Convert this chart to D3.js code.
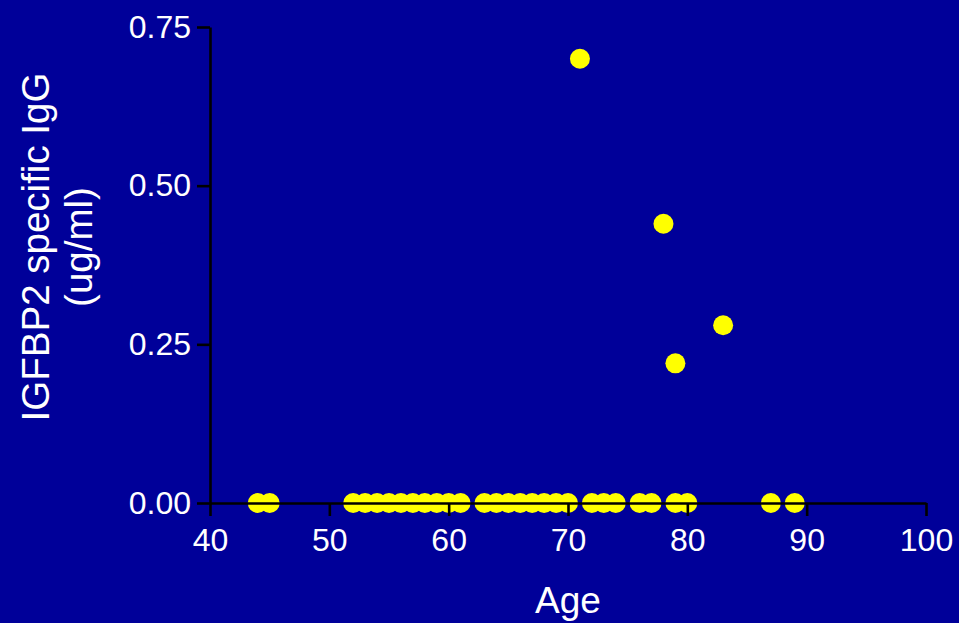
<!DOCTYPE html>
<html>
<head>
<meta charset="utf-8">
<script src="https://cdn.jsdelivr.net/npm/d3@7"></script>
<style>
  html, body { margin: 0; padding: 0; background: #000099; }
  svg text { font-family: "Liberation Sans", Arial, sans-serif; }
</style>
</head>
<body>
<div id="content"></div>
<script>
// patient ages and measured IGFBP2 specific IgG (ug/ml)
var ages = [44, 45,
  52, 53, 54, 55, 56, 57, 58, 59, 60, 61,
  63, 64, 65, 66, 67, 68, 69, 70,
  72, 73, 74, 76, 77, 79, 80, 87, 89,
  71, 78, 83, 79];
var igg = [0, 0,
  0, 0, 0, 0, 0, 0, 0, 0, 0, 0,
  0, 0, 0, 0, 0, 0, 0, 0,
  0, 0, 0, 0, 0, 0, 0, 0, 0,
  0.70, 0.44, 0.28, 0.22];

var xTicks = [40, 50, 60, 70, 80, 90, 100];
var yTicks = [0, 0.25, 0.5, 0.75];

var width = 959,
  height = 623;

var svg = d3.select("#content")
  .append("svg")
  .attr("width", width)
  .attr("height", height);

svg.append("rect")
  .attr("width", width)
  .attr("height", height)
  .attr("fill", "#000099");

var x = d3.scaleLinear().domain([40, 100]).range([210, 926]);
var y = d3.scaleLinear().domain([0, 0.75]).range([503, 27]);

// points first, axes are drawn on top of them
svg.append("g")
  .selectAll("circle")
  .data(ages)
  .enter()
  .append("circle")
  .attr("cx", function (d) { return x(d); })
  .attr("cy", function (d, i) { return y(igg[i]); })
  .attr("r", 10)
  .attr("fill", "#ffff00");

var xAxis = svg.append("g")
  .attr("transform", "translate(0," + y(0) + ")")
  .call(d3.axisBottom(x).tickValues(xTicks).tickSize(13).tickSizeOuter(0).tickPadding(12));

var yAxis = svg.append("g")
  .attr("transform", "translate(" + x(40) + ",0)")
  .call(d3.axisLeft(y).tickValues(yTicks).tickSize(13).tickSizeOuter(0).tickPadding(6)
    .tickFormat(d3.format(".2f")));

[xAxis, yAxis].forEach(function (g) {
  g.selectAll("path, line")
    .attr("stroke", "#000")
    .attr("stroke-width", 2.6);
  g.selectAll("text")
    .attr("fill", "#fff")
    .style("font-size", "32px");
});

svg.append("text")
  .attr("x", (x(40) + x(100)) / 2)
  .attr("y", 613)
  .attr("text-anchor", "middle")
  .attr("fill", "#fff")
  .style("font-size", "37px")
  .text("Age");

svg.append("text")
  .attr("transform", "translate(49,247) rotate(-90)")
  .attr("text-anchor", "middle")
  .attr("fill", "#fff")
  .style("font-size", "38.5px")
  .text("IGFBP2 specific IgG");

svg.append("text")
  .attr("transform", "translate(92,247) rotate(-90)")
  .attr("text-anchor", "middle")
  .attr("fill", "#fff")
  .style("font-size", "38.5px")
  .text("(ug/ml)");
</script>
</body>
</html>
